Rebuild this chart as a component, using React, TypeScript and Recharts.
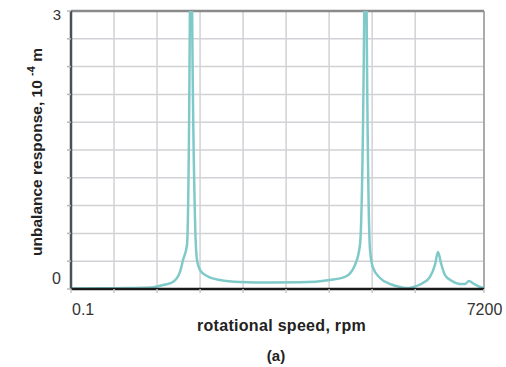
import { LineChart, Line, XAxis, YAxis, CartesianGrid, ReferenceLine } from 'recharts';

const rpm = [
  0.1, 506, 1029, 1377, 1604, 1778, 1900, 1953, 2022, 2078, 2092, 2106, 2162, 2197, 2249, 2371,
  2598, 2946, 3469, 3992, 4515, 4777, 4951, 5038, 5120, 5134, 5148, 5213, 5265, 5387, 5561,
  5736, 5857, 5962, 6136, 6258, 6345, 6398, 6450, 6520, 6642, 6781, 6869, 6938, 7026, 7130, 7200,
];
const response = [
  0.005, 0.008, 0.011, 0.015, 0.043, 0.076, 0.184, 0.313, 0.475, 3.5, 8, 3.5, 0.75, 0.31, 0.205, 0.14,
  0.097, 0.076, 0.07, 0.072, 0.097, 0.13, 0.26, 0.475, 3.5, 8, 3.5, 0.42, 0.23, 0.119, 0.054,
  0.022, 0.01, 0.02, 0.065, 0.13, 0.26, 0.4, 0.28, 0.15, 0.086, 0.054, 0.054, 0.086, 0.054, 0.022, 0.01,
];
const xTicks = [0, 750, 1500, 2250, 3000, 3750, 4500, 5250, 6000, 6750, 7200];
const yTicks = [0, 0.3, 0.6, 0.9, 1.2, 1.5, 1.8, 2.1, 2.4, 2.7, 3];
const xEndLabels = ['0.1', '7200'];
const yEndLabels = ['0', '3'];
const xTitle = 'rotational speed, rpm';
const caption = '(a)';

const data = rpm.map((r, i) => ({ rpm: r, response: response[i] }));

const FONT = '"Liberation Sans", Arial, sans-serif';

function XTick(props: any) {
  const { x, payload } = props;
  if (payload.value === 0) {
    return <text x={x + 1} y={315} textAnchor="start" fontSize={16} fill="#333" fontFamily={FONT}>{xEndLabels[0]}</text>;
  }
  if (payload.value === 7200) {
    return <text x={x + 0.5} y={315} textAnchor="middle" fontSize={16} fill="#333" fontFamily={FONT}>{xEndLabels[1]}</text>;
  }
  return <g />;
}

function YTick(props: any) {
  const { y, payload } = props;
  if (payload.value === 0) {
    return <text x={61} y={y - 5} textAnchor="end" fontSize={16} fill="#333" fontFamily={FONT}>{yEndLabels[0]}</text>;
  }
  if (payload.value === 3) {
    return <text x={61} y={y + 9} textAnchor="end" fontSize={15} fill="#333" fontFamily={FONT}>{yEndLabels[1]}</text>;
  }
  return <g />;
}

function XTitle() {
  return (
    <g fontFamily={FONT} fontWeight="bold" fill="#222">
      <text x={281.5} y={331} textAnchor="middle" fontSize={16} letterSpacing={0.3}>{xTitle}</text>
      <text x={276} y={361} textAnchor="middle" fontSize={15}>{caption}</text>
    </g>
  );
}

function YTitle() {
  return (
    <text
      transform="translate(42,152) rotate(-90)"
      textAnchor="middle"
      fontFamily={FONT}
      fontWeight="bold"
      fontSize={15.5}
      fill="#222"
    >
      unbalance response, 10 <tspan fontSize={11} dy={-7}>-4</tspan>
      <tspan dy={7}>  m</tspan>
    </text>
  );
}

export default function App() {
  return (
    <div style={{ position: 'absolute', left: 0, top: 0 }}>
      <LineChart
        width={506}
        height={367}
        data={data}
        margin={{ top: 11, right: 22, bottom: 48, left: 11 }}
      >
        <CartesianGrid stroke="#d2d2d6" strokeWidth={1.5} />
        <XAxis
          type="number"
          dataKey="rpm"
          domain={[0, 7200]}
          ticks={xTicks}
          height={30}
          tickSize={4}
          tick={<XTick />}
          tickLine={{ stroke: '#c8c8cc', strokeWidth: 1.5 }}
          axisLine={{ stroke: '#1a1a1a', strokeWidth: 2.5 }}
          label={<XTitle />}
        />
        <YAxis
          type="number"
          domain={[0, 3]}
          ticks={yTicks}
          allowDataOverflow
          width={60}
          tickSize={4}
          tick={<YTick />}
          tickLine={{ stroke: '#b8b8bc', strokeWidth: 1.5 }}
          axisLine={{ stroke: '#4a5058', strokeWidth: 2.5 }}
          label={<YTitle />}
        />
        <ReferenceLine y={3} stroke="#8a8a8a" strokeWidth={2.5} />
        <ReferenceLine x={7200} stroke="#9a9a9a" strokeWidth={1.5} />
        <Line
          type="monotoneX"
          dataKey="response"
          stroke="#80c9c9"
          strokeWidth={2.5}
          dot={false}
          isAnimationActive={false}
        />
      </LineChart>
    </div>
  );
}
